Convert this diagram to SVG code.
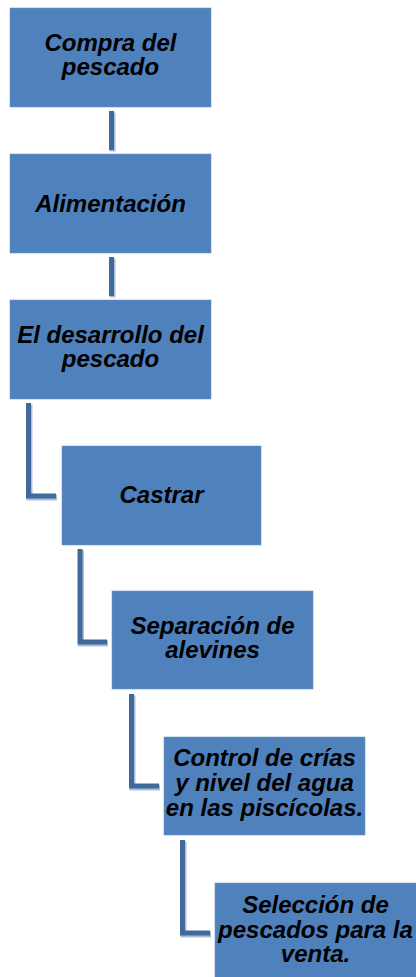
<svg xmlns="http://www.w3.org/2000/svg" width="416" height="977" viewBox="0 0 416 977">
<style>
.box{fill:#4F81BD;stroke:#6E97CA;stroke-width:0.6}
.t{font-family:"Liberation Sans",Arial,sans-serif;font-size:24px;font-weight:bold;font-style:italic;fill:#000;text-anchor:middle}
.sh{fill:none;stroke:#A9BEDA;stroke-width:6}
.cn{fill:none;stroke:#41699C;stroke-width:5}
</style>
<rect width="416" height="977" fill="#fff"/>
<g id="connectors">
<g transform="translate(1,1.5)">
<path class="sh" d="M111.5 111V150"/>
<path class="sh" d="M111.5 257V296"/>
<path class="sh" d="M28.5 403V496H56"/>
<path class="sh" d="M80 549V642H107"/>
<path class="sh" d="M131.5 694V786H159"/>
<path class="sh" d="M182.5 840V933H210"/>
</g>
<path class="cn" d="M111.5 111V150"/>
<path class="cn" d="M111.5 257V296"/>
<path class="cn" d="M28.5 403V496H56"/>
<path class="cn" d="M80 549V642H107"/>
<path class="cn" d="M131.5 694V786H159"/>
<path class="cn" d="M182.5 840V933H210"/>
</g>
<g id="n1"><rect class="box" x="10" y="8" width="201" height="99"/>
<text class="t" x="110.5" y="51">Compra del</text><text class="t" x="110.5" y="75">pescado</text></g>
<g id="n2"><rect class="box" x="10" y="154" width="201" height="99"/>
<text class="t" x="110.5" y="212">Alimentación</text></g>
<g id="n3"><rect class="box" x="10" y="300" width="201" height="99"/>
<text class="t" x="110.5" y="343">El desarrollo del</text><text class="t" x="110.5" y="367">pescado</text></g>
<g id="n4"><rect class="box" x="62" y="446" width="199" height="99"/>
<text class="t" x="161.5" y="503">Castrar</text></g>
<g id="n5"><rect class="box" x="112" y="591" width="201" height="98"/>
<text class="t" x="212.5" y="634">Separación de</text><text class="t" x="212.5" y="658">alevines</text></g>
<g id="n6"><rect class="box" x="164" y="737" width="201" height="98"/>
<text class="t" x="264.5" y="766">Control de crías</text><text class="t" x="264.5" y="791">y nivel del agua</text><text class="t" x="264.5" y="816">en las piscícolas.</text></g>
<g id="n7"><rect class="box" x="215" y="883" width="203" height="99"/>
<text class="t" x="315.5" y="913">Selección de</text><text class="t" x="315.5" y="938">pescados para la</text><text class="t" x="315.5" y="962">venta.</text></g>
</svg>
